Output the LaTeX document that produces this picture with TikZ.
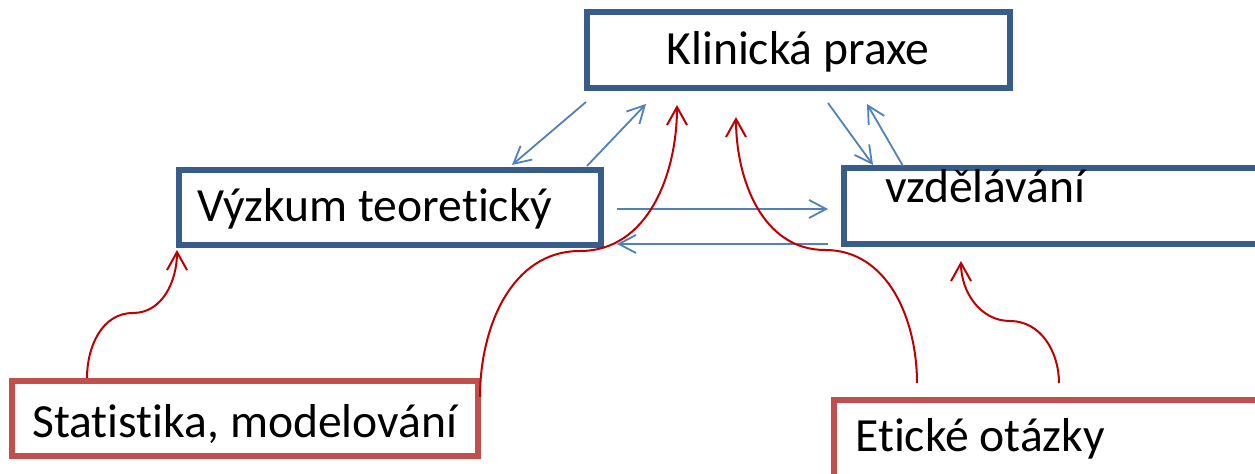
\documentclass[tikz,border=0pt]{standalone}
\usepackage{fontspec}
\setmainfont[Ligatures=NoCommon]{Carlito}
\usetikzlibrary{arrows.meta}
\definecolor{boxblue}{RGB}{56,93,138}
\definecolor{boxred}{RGB}{192,80,77}
\definecolor{arrowblue}{RGB}{79,129,189}
\definecolor{curvered}{RGB}{192,0,0}
\begin{document}
\begin{tikzpicture}[x=0.5pt,y=-0.5pt,
  bluebox/.style={draw=boxblue,fill=white,line width=2.6pt,rectangle,inner sep=0pt},
  redbox/.style={draw=boxred,fill=white,line width=2.6pt,rectangle,inner sep=0pt},
  lbl/.style={font=\fontsize{23.8}{28}\selectfont,inner sep=0pt},
  bluearrow/.style={draw=arrowblue,line width=0.9pt,-{Straight Barb[length=8.5pt,width=9pt]}},
  redarrow/.style={draw=curvered,line width=1pt,-{Straight Barb[length=9pt,width=10pt]}}]
\useasboundingbox (0,0) rectangle (1255,474);
\clip (0,0) rectangle (1255,474);
\fill[white] (0,0) rectangle (1255,474);
% boxes
\node[bluebox,minimum width=211.5pt,minimum height=38pt] (K) at (798.5,50) {};
\node[lbl,anchor=base] (Kt) at (798,65) {Klinická praxe};
\node[bluebox,minimum width=211pt,minimum height=37.5pt] (V) at (390,207.5) {};
\node[lbl,anchor=base west] (Vt) at (197,222) {Výzkum teoretický};
\node[bluebox,minimum width=228pt,minimum height=38pt] (Z) at (1072,206) {};
\node[lbl,anchor=base west] (Zt) at (885,203) {vzdělávání};
\node[redbox,minimum width=233pt,minimum height=37.5pt] (S) at (245,418.5) {};
\node[lbl,anchor=base west] (St) at (32,438) {Statistika, modelování};
\node[redbox,minimum width=233pt,minimum height=50pt] (E) at (1067,450) {};
\node[lbl,anchor=base west] (Et) at (855,452) {Etické otázky};
% blue arrow end points
\coordinate (b1s) at (586,102); \coordinate (b1e) at (512,165);
\coordinate (b2s) at (587,166); \coordinate (b2e) at (646,104);
\coordinate (b3s) at (828,103); \coordinate (b3e) at (873,165);
\coordinate (b4s) at (903,166); \coordinate (b4e) at (867,104);
\coordinate (b5s) at (617,209); \coordinate (b5e) at (828,209);
\coordinate (b6s) at (828,244); \coordinate (b6e) at (617,244);
\draw[bluearrow] (b1s) -- (b1e);
\draw[bluearrow] (b2s) -- (b2e);
\draw[bluearrow] (b3s) -- (b3e);
\draw[bluearrow] (b4s) -- (b4e);
\draw[bluearrow] (b5s) -- (b5e);
\draw[bluearrow] (b6s) -- (b6e);
% red curves
\coordinate (ra) at (87,378);  \coordinate (ram) at (133,313); \coordinate (rae) at (177,250);
\coordinate (rb) at (480,397); \coordinate (rbm) at (580,251); \coordinate (rbe) at (677,105);
\coordinate (rc) at (917,383); \coordinate (rcm) at (825,250); \coordinate (rce) at (736,117);
\coordinate (rd) at (1059,383); \coordinate (rdm) at (1010,321); \coordinate (rde) at (961,261);
\draw[redarrow] (ra) to[out=90,in=180] (ram) to[out=0,in=-90] (rae);
\draw[redarrow] (rb) to[out=90,in=180] (rbm) to[out=0,in=-90] (rbe);
\draw[redarrow] (rc) to[out=90,in=0] (rcm) to[out=180,in=-90] (rce);
\draw[redarrow] (rd) to[out=90,in=0] (rdm) to[out=180,in=-90] (rde);
\end{tikzpicture}
\end{document}
